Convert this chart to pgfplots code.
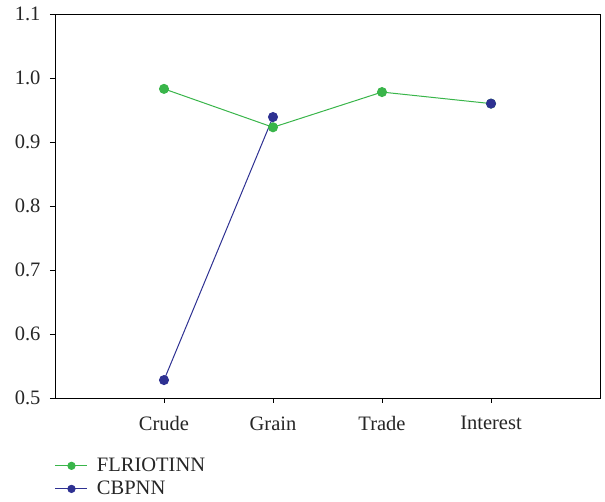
\documentclass[border=0pt]{standalone}
\usepackage{pgfplots}
\pgfplotsset{compat=1.18}
\usepackage{fontspec}
\setmainfont{Liberation Serif}
\definecolor{cgreen}{HTML}{39B54A}
\definecolor{cblue}{HTML}{2E3192}
\begin{document}
\begin{tikzpicture}
\begin{axis}[
  scale only axis,
  width=545pt, height=384pt,
  xmin=0, xmax=5, ymin=0.5, ymax=1.1,
  xtick={1,2,3,4},
  xticklabels={Crude,Grain,Trade,Interest},
  ytick={0.5,0.6,0.7,0.8,0.9,1.0,1.1},
  yticklabel style={/pgf/number format/fixed,/pgf/number format/precision=1,/pgf/number format/fixed zerofill},
  /pgf/number format/assume math mode=true,
  tick align=outside, tick pos=left,
  major tick length=5pt,
  axis line style={line width=0.9pt},
  tick style={line width=0.9pt,black},
  ticklabel style={font=\fontsize{20.5}{24}\selectfont, text=black!85},
  xticklabel style={yshift=-10pt},
  yticklabel style={xshift=-6pt},
  unbounded coords=jump,
  legend style={draw=none, at={(0,-0.157)}, anchor=north west, inner sep=0pt, outer sep=0pt,
    font=\fontsize{20.5}{24}\selectfont, row sep=8pt, fill=none, text=black!85,
    nodes={inner xsep=9pt, inner ysep=0pt}},
  legend cell align=left,
  legend image code/.code={\draw[mark repeat=2,mark phase=2,mark size=3.6pt] plot coordinates {(0pt,0pt)(16pt,0pt)(32pt,0pt)};},
]
\addplot[cgreen, line width=1pt, mark=*, mark size=4.5pt, mark options={draw=cgreen,fill=cgreen}]
  coordinates {(1,0.983) (2,0.923) (3,0.978) (4,0.960)};
\addlegendentry{FLRIOTINN}
\addplot[cblue, line width=1pt, mark=*, mark size=4.5pt, mark options={draw=cblue,fill=cblue}]
  coordinates {(1,0.528) (2,0.939) (3,nan) (4,0.960)};
\addlegendentry{CBPNN}
\coordinate (SW) at (rel axis cs:0,0);
\coordinate (NE) at (rel axis cs:1,1);
\end{axis}
\pgfresetboundingbox
\path[use as bounding box] ([shift={(-55pt,-104pt)}]SW) rectangle ([shift={(5pt,14pt)}]NE);
\end{tikzpicture}
\end{document}
